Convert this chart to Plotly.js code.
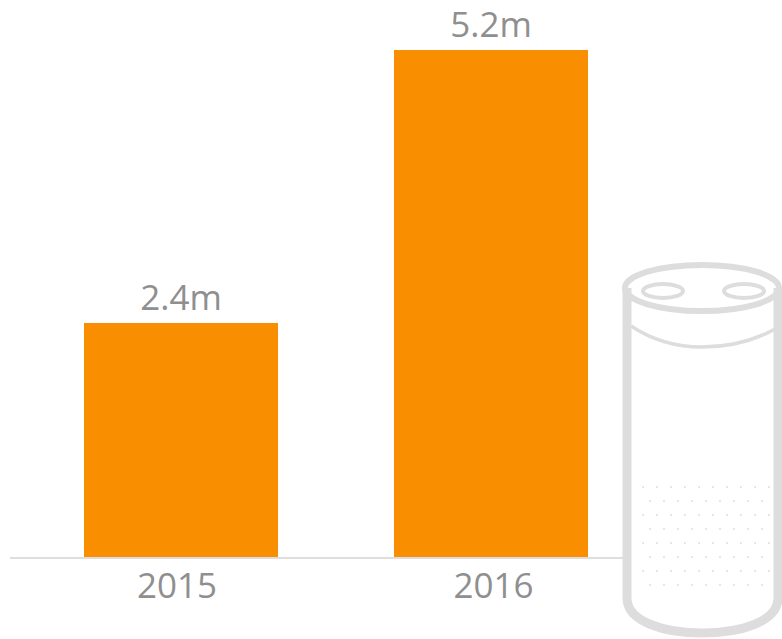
<!DOCTYPE html>
<html><head><meta charset="utf-8">
<script src="https://cdn.plot.ly/plotly-3.0.0.min.js"></script>
<style>html,body{margin:0;padding:0;background:#fff;overflow:hidden}</style></head>
<body><div id="chart" style="width:782px;height:639px"></div>
<script>
const years = ['2015', '2016'];
const shipments = [2.4, 5.2];
const valueLabels = ['2.4m', '5.2m'];

const W = 782, H = 639, left = 10, right = 625, bottom = 557;
const X = p => (p - left) / (right - left);
const Y = p => (bottom - p) / bottom;
const pt = (x, y) => X(x) + ',' + Y(y);
const grey = '#dddddd';
const paper = {xref: 'paper', yref: 'paper', layer: 'above'};
const shapes = [];
const addPath = (path, width) => shapes.push({...paper, type: 'path', path, line: {color: grey, width}});
const addEllipse = (cx, cy, rx, ry, width) => shapes.push({...paper, type: 'circle',
  x0: X(cx - rx), x1: X(cx + rx), y0: Y(cy + ry), y1: Y(cy - ry), line: {color: grey, width}});

// Speaker illustration (decoration, not data)
addPath('M' + pt(627, 288) + ' L' + pt(627, 598) + ' C' + pt(627, 622) + ' ' + pt(665, 633) + ' ' + pt(702, 633) +
  ' C' + pt(740, 633) + ' ' + pt(778, 622) + ' ' + pt(778, 598) + ' L' + pt(778, 288), 9);
addEllipse(702, 288, 77, 23, 6);
addEllipse(663, 291, 20, 7, 4);
addEllipse(744, 291, 20, 7, 4);
addPath('M' + pt(631, 326) + ' C' + pt(655, 342) + ' ' + pt(680, 347) + ' ' + pt(702, 347) +
  ' C' + pt(725, 347) + ' ' + pt(752, 342) + ' ' + pt(777, 328), 3.5);
for (let r = 0; r < 8; r++) {
  for (let c = 0; c < 10; c++) {
    const x = 643 + c * 14 + (r % 2) * 7, y = 487 + r * 14;
    shapes.push({...paper, type: 'circle', x0: X(x - 0.9), x1: X(x + 0.9), y0: Y(y + 0.9), y1: Y(y - 0.9),
      line: {width: 0}, fillcolor: '#dcdcdc'});
  }
}

Plotly.newPlot('chart', [{
  type: 'bar', x: [0, 1], y: shipments, width: 0.626,
  marker: {color: '#F98E00', line: {width: 0}},
  text: valueLabels, textposition: 'outside', cliponaxis: false,
  textfont: {family: '"Open Sans", sans-serif', size: 35, color: '#8f8f8f'},
  hoverinfo: 'skip'
}], {
  width: W, height: H, showlegend: false, bargap: 0,
  paper_bgcolor: '#fff', plot_bgcolor: '#fff',
  margin: {l: left, r: W - right, t: 0, b: H - bottom, pad: 0},
  xaxis: {
    tickmode: 'array', tickvals: [-4 / 310, 1 + 2.5 / 310], ticktext: years,
    range: [(left - 181) / 310, (right - 181) / 310],
    showgrid: false, zeroline: false, showline: true, linecolor: '#dddde2', linewidth: 2,
    ticks: '', ticklen: 0, ticklabelstandoff: -3,
    tickfont: {family: '"Open Sans", sans-serif', size: 35, color: '#8f8f8f'}
  },
  yaxis: {range: [0, bottom / 97.5], visible: false, showgrid: false, zeroline: false},
  shapes
}, {staticPlot: true, displayModeBar: false});
</script></body></html>
